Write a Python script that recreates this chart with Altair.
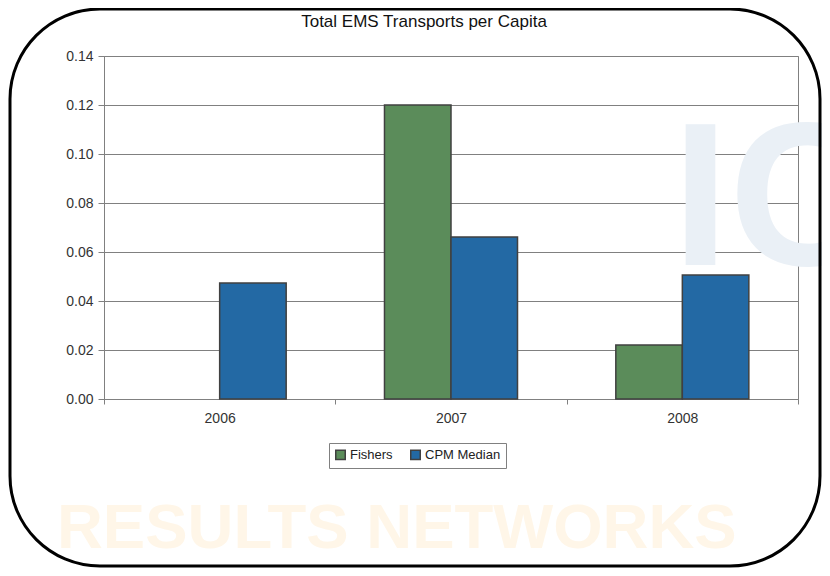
import altair as alt
import pandas as pd

years = ["2006", "2007", "2008"]
series = ["Fishers", "CPM Median"]
fishers = [None, 0.120, 0.022]
cpm_median = [0.0473, 0.0661, 0.0506]
colors = ["#5B8C5A", "#2369A4"]
y_ticks = [0.0, 0.02, 0.04, 0.06, 0.08, 0.10, 0.12, 0.14]
title_text = "Total EMS Transports per Capita"

rows = []
for i, yr in enumerate(years):
    rows.append({"year": yr, "series": "Fishers", "value": fishers[i]})
    rows.append({"year": yr, "series": "CPM Median", "value": cpm_median[i]})
df = pd.DataFrame(rows).dropna()

FONT = "Liberation Sans"
W, H = 694, 343

bars = alt.Chart(df).mark_bar(stroke="#404040", strokeWidth=1.5).encode(
    x=alt.X("year:N", title=None, sort=years,
            scale=alt.Scale(paddingInner=0, paddingOuter=0),
            axis=alt.Axis(labelAngle=0, tickBand="extent", domainColor="#808080",
                          tickColor="#808080", tickSize=5, labelFontSize=14,
                          labelColor="#333333", labelFont=FONT, labelPadding=7)),
    xOffset=alt.XOffset("series:N", sort=series,
                        scale=alt.Scale(paddingInner=0, paddingOuter=0.739)),
    y=alt.Y("value:Q", title=None,
            scale=alt.Scale(domain=[0, 0.14], nice=False),
            axis=alt.Axis(values=y_ticks, format=".2f", grid=True, gridColor="#808080",
                          gridWidth=1, domainColor="#808080", tickColor="#808080",
                          tickSize=6, labelFontSize=14, labelColor="#333333",
                          labelFont=FONT, labelPadding=5)),
    color=alt.Color("series:N", sort=series,
                    scale=alt.Scale(domain=series, range=colors),
                    legend=alt.Legend(title=None, orient="none", legendX=225, legendY=387,
                                      direction="horizontal", symbolType="square",
                                      symbolSize=90, symbolStrokeColor="#404040",
                                      symbolStrokeWidth=1.5, labelFontSize=13,
                                      labelFont=FONT, labelColor="#222222",
                                      strokeColor="#808080", padding=5,
                                      columnPadding=14, labelOffset=3)),
)

wm_df = pd.DataFrame({"t": ["RESULTS NETWORKS"]})
wm1 = alt.Chart(wm_df).mark_text(
    font=FONT, fontWeight="bold", fontSize=63.5,
    color="#FFF6E8", align="left", baseline="alphabetic"
).encode(text="t:N", x=alt.value(-47), y=alt.value(492))

ic_df = pd.DataFrame({"t": ["IC"]})
wm2 = alt.Chart(ic_df).mark_text(
    font=FONT, fontWeight="bold", fontSize=205,
    color="#EAF0F6", align="left", baseline="alphabetic"
).encode(text="t:N", x=alt.value(568), y=alt.value(209))

title_df = pd.DataFrame({"t": [title_text]})
title = alt.Chart(title_df).mark_text(
    font=FONT, fontSize=17, color="#111111", align="center", baseline="alphabetic"
).encode(text="t:N", x=alt.value(320), y=alt.value(-29))

frame = alt.Chart(wm_df).mark_rect(
    fill="transparent", stroke="#000000", strokeWidth=3, cornerRadius=90
).encode(x=alt.value(-94), x2=alt.value(716), y=alt.value(-47), y2=alt.value(510))

chart = alt.layer(wm1, wm2, bars, title, frame).properties(
    width=W, height=H,
    autosize=alt.AutoSizeParams(type="none"),
    padding={"left": 96, "top": 48, "right": 24, "bottom": 169},
    background="white",
).configure_view(stroke="#808080", strokeWidth=1)

chart.save("out.html", embed_options={"renderer": "svg", "actions": False})
